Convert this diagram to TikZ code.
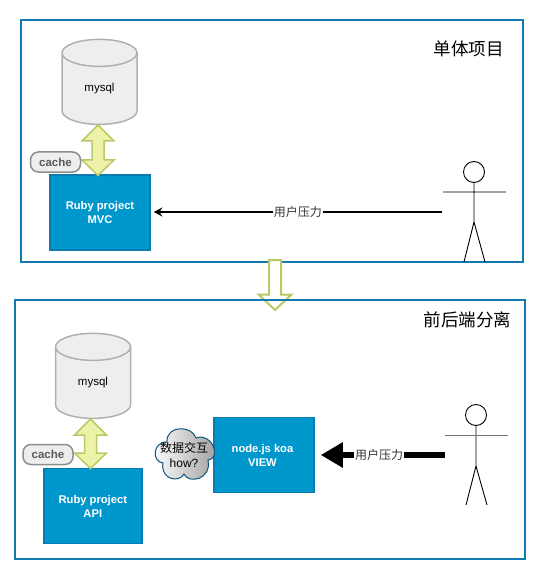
\documentclass[tikz,border=0pt]{standalone}
\usepackage{fontspec}
\setmainfont{Liberation Sans}
\newfontfamily\cjk{Noto Sans CJK SC}
\usetikzlibrary{shapes.geometric,arrows.meta}
\definecolor{framec}{HTML}{1279B3}
\definecolor{boxfill}{HTML}{0098CC}
\definecolor{boxline}{HTML}{0A7AB0}
\definecolor{dbfill}{HTML}{EEEEEE}
\definecolor{dbline}{HTML}{B0B0B0}
\definecolor{arrfill}{HTML}{EEF2A8}
\definecolor{arrline}{HTML}{BCC868}
\definecolor{cacheline}{HTML}{8E8E8E}
\definecolor{labelc}{HTML}{333333}
\tikzset{
  frame/.style={draw=framec,line width=2pt},
  blue box/.style={draw=boxline,line width=1.5pt,fill=boxfill,text=white,font=\fontsize{11.2}{14}\selectfont\bfseries,
    minimum width=100pt,minimum height=75pt,inner sep=0,align=center},
  db/.style={cylinder,shape border rotate=90,aspect=0.9,draw=dbline,line width=1.5pt,fill=dbfill,cylinder uses custom fill,
    cylinder body fill=dbfill,cylinder end fill=dbfill,minimum width=75pt,minimum height=85pt,inner sep=0,
    font=\fontsize{11.5}{13}\selectfont},
  cachetag/.style={draw=cacheline,line width=1.5pt,fill=dbfill,rounded corners=8pt,text=black!65,
    font=\fontsize{11.5}{13}\selectfont\bfseries,minimum width=50pt,minimum height=20pt,inner sep=0},
  dbl/.style={draw=arrline,line width=1.5pt,fill=arrfill,line join=miter},
  hollow/.style={draw=arrline,line width=2pt,fill=white,line join=miter},
  title/.style={font=\fontsize{17.5}{19}\selectfont\cjk},
  pressure/.style={font=\fontsize{12}{13}\selectfont\cjk,text=labelc,fill=white,inner sep=1.2pt},
  limb/.style={line width=0.9pt,black},
  head/.style={circle,draw=black,line width=0.9pt,minimum size=21pt,inner sep=0},
}
\begin{document}
\begin{tikzpicture}[x=1pt,y=-1pt]
\useasboundingbox (0,0) rectangle (552,580);
% top panel
\draw[frame] (20.5,20.5) rectangle (522.5,262);
\node[title] (t1) at (468.5,49) {单体项目};
\node[db] (db1) at (99.5,89) {\raisebox{-2.5pt}{mysql}};
\node[blue box] (mvc) at (100,212.5) {Ruby project\\MVC};
\draw[dbl] (98,125) -- ++(16,16) -- ++(-10,0) -- ++(0,19) -- ++(10,0) -- ++(-16,15.5) -- ++(-16,-15.5) -- ++(10,0) -- ++(0,-19) -- ++(-10,0) -- cycle;
\node[cachetag] (c1) at (55.5,162) {cache};
\node[head] (h1) at (474,172) {};
\coordinate (a1l) at (443,192); \coordinate (a1r) at (506,192);
\coordinate (b1) at (474,222);
\coordinate (l1l) at (464,262); \coordinate (l1r) at (485,262);
\draw[limb] (h1.south) -- (b1) -- (l1l) (b1) -- (l1r) (a1l) -- (a1r);
\coordinate (u1) at (442,212);
\draw[line width=1.7pt,-{Stealth[length=8.5pt,width=9pt]}] (u1) -- ([xshift=3pt]mvc.east |- u1) node[pressure,pos=0.5] (p1) {用户压力};
% hollow arrow
\draw[hollow] (269,260) -- (281,260) -- (281,294.5) -- (291.5,294.5) -- (275,310) -- (258.5,294.5) -- (269,294.5) -- cycle;
% bottom panel
\draw[frame] (15,299.5) rectangle (525,559);
\node[title] (t2) at (467.5,320) {前后端分离};
\node[db] (db2) at (93,383) {\raisebox{-2.5pt}{mysql}};
\node[blue box,minimum width=98pt] (api) at (92.8,506) {\raisebox{-2pt}{Ruby project}\\\raisebox{-2pt}{API}};
\draw[dbl] (90.5,419) -- ++(16,16) -- ++(-10,0) -- ++(0,18) -- ++(10,0) -- ++(-16,15.5) -- ++(-16,-15.5) -- ++(10,0) -- ++(0,-18) -- ++(-10,0) -- cycle;
\node[cachetag] (c2) at (48,454.5) {cache};
\node[blue box] (view) at (264,455) {node.js koa\hspace*{3pt}\\VIEW\hspace*{3pt}};
\draw[draw=framec!70!black,line width=1pt,left color=white,right color=black!40]
  (163,463) .. controls (152,462) and (152,442) .. (167,442)
  .. controls (166,425) and (192,425) .. (196,438)
  .. controls (212,432) and (222,458) .. (208,460)
  .. controls (212,480) and (188,484) .. (184,474)
  .. controls (180,483) and (160,480) .. (163,463) -- cycle;
\node[align=center,inner sep=0,font=\fontsize{12}{15}\selectfont] (cl) at (184,454.5) {{\cjk 数据交互}\\how?};
\node[head] (h2) at (476,415) {};
\coordinate (a2l) at (445,435); \coordinate (a2r) at (508,435);
\coordinate (b2) at (476,466);
\coordinate (l2l) at (466,505); \coordinate (l2r) at (487,505);
\draw[limb] (h2.south) -- (b2) -- (l2l) (b2) -- (l2r);
\draw[black!55,line width=1pt] (a2l) -- (a2r);
\coordinate (u2) at (445,455);
\draw[line width=6.5pt,-{Stealth[length=22pt,width=24pt,inset=0pt]}] (u2) -- ([xshift=6pt]view.east |- u2) node[pressure,pos=0.53] (p2) {用户压力};
\end{tikzpicture}
\end{document}
